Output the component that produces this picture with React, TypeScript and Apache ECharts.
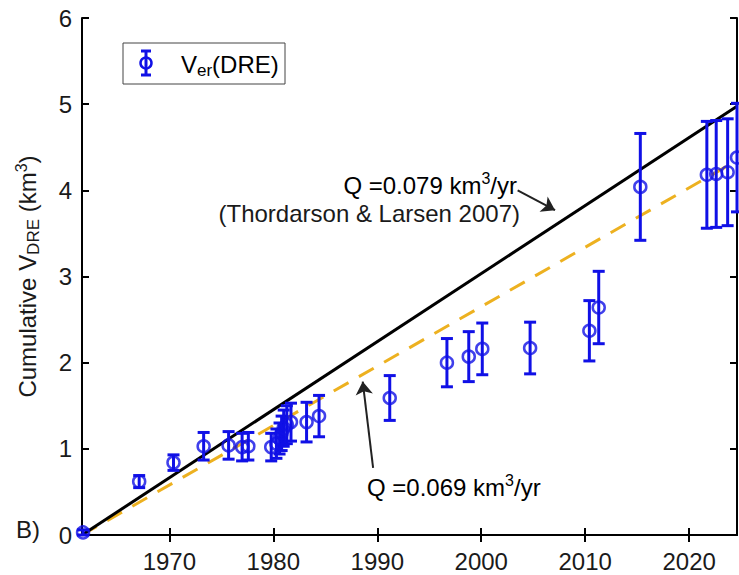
import React, { useEffect, useRef } from "react";
import * as echarts from "echarts";

// ---- data ----
const years = [1961.7, 1967.1, 1970.4, 1973.3, 1975.7, 1977.0, 1977.6, 1979.8, 1980.3, 1980.6, 1980.8, 1981.0, 1981.3, 1981.7, 1983.2, 1984.4, 1991.2, 1996.7, 1998.8, 2000.1, 2004.7, 2010.4, 2011.3, 2015.3, 2021.7, 2022.6, 2023.7, 2024.6];
const volumes = [0.03, 0.62, 0.84, 1.03, 1.04, 1.02, 1.03, 1.02, 1.06, 1.12, 1.18, 1.24, 1.28, 1.31, 1.31, 1.38, 1.59, 2.0, 2.07, 2.16, 2.17, 2.37, 2.64, 4.04, 4.18, 4.19, 4.21, 4.38];
const errors = [0.03, 0.07, 0.09, 0.16, 0.16, 0.16, 0.16, 0.16, 0.17, 0.18, 0.2, 0.21, 0.22, 0.22, 0.23, 0.24, 0.26, 0.28, 0.29, 0.3, 0.3, 0.35, 0.42, 0.62, 0.62, 0.62, 0.62, 0.63];
const xTicks = [1970, 1980, 1990, 2000, 2010, 2020];
const xMin = 1961.6;
const xMax = 2024.6;
const rateLong = 0.079; // km3/yr (Thordarson & Larsen 2007)
const rateFit = 0.069; // km3/yr

const BLUE = "#1010e6";
const ORANGE = "#EDB120";
const FONT = "Liberation Sans, Arial, Helvetica, sans-serif";
const TXT = "#1a1a1a";
const FS = 24;

const richBase = (size: number) => ({
  n: { fontSize: size, fontFamily: FONT, color: TXT, lineHeight: size + 5 },
  sub: { fontSize: Math.round(size * 0.7), fontFamily: FONT, color: TXT, verticalAlign: "bottom", lineHeight: Math.round(size * 0.62) },
  sup: { fontSize: Math.round(size * 0.68), fontFamily: FONT, color: TXT, verticalAlign: "top", lineHeight: Math.round(size * 0.68) },
});

export default function App() {
  const ref = useRef<HTMLDivElement>(null);
  useEffect(() => {
    if (!ref.current) return;
    const chart = echarts.init(ref.current, null, { renderer: "svg" });
    const pts = years.map((y, i) => [y, volumes[i], errors[i]]);
    const lineLong = [[xMin, 0], [xMax, rateLong * (xMax - xMin)]];
    const lineFit = [[xMin, 0], [xMax, rateFit * (xMax - xMin)]];
    const axisLine = { show: true, lineStyle: { color: "#000", width: 2 } };
    const axisTickIn = { show: true, inside: true, length: 7, lineStyle: { color: "#000", width: 2 } };
    chart.setOption({
      animation: false,
      backgroundColor: "#fff",
      grid: { left: 82, right: 2, top: 18, bottom: 40 },
      xAxis: [
        {
          type: "value", min: xMin, max: xMax, position: "bottom",
          axisLine, axisTick: { ...axisTickIn, customValues: xTicks },
          axisLabel: { customValues: xTicks, formatter: (v: number) => String(Math.round(v)), fontSize: FS, fontFamily: FONT, color: TXT, margin: 14 },
          splitLine: { show: false },
        },
        {
          type: "value", min: xMin, max: xMax, position: "top",
          axisLine, axisTick: { ...axisTickIn, customValues: xTicks },
          axisLabel: { show: false }, splitLine: { show: false },
        },
      ],
      yAxis: [
        {
          type: "value", min: 0, max: 6, interval: 1, position: "left",
          name: "{n|Cumulative V}{sub|DRE}{n| (km}{sup|3}{n|)}",
          nameLocation: "middle", nameGap: 40,
          nameTextStyle: { rich: richBase(FS) },
          axisLine, axisTick: axisTickIn,
          axisLabel: { fontSize: FS, fontFamily: FONT, color: TXT, margin: 10 },
          splitLine: { show: false },
        },
        {
          type: "value", min: 0, max: 6, interval: 1, position: "right",
          axisLine, axisTick: axisTickIn, axisLabel: { show: false }, splitLine: { show: false },
        },
      ],
      series: [
        {
          type: "line", data: lineLong, symbol: "none",
          lineStyle: { color: "#000", width: 3 }, z: 3,
          markLine: {
            silent: true, symbol: ["none", "arrow"], symbolSize: 13,
            label: { show: false },
            lineStyle: { color: "#222", width: 2, type: "solid" },
            data: [
              [{ coord: [2003.5, 4.0] }, { coord: [2007.1, 3.77] }],
              [{ coord: [1989.6, 0.78] }, { coord: [1988.6, 1.78] }],
            ],
          },
        },
        {
          type: "line", data: lineFit, symbol: "none",
          lineStyle: { color: ORANGE, width: 3, type: [17, 12] }, z: 2,
        },
        {
          type: "custom", data: pts, encode: { x: 0, y: 1 }, z: 4,
          renderItem: (params: any, api: any) => {
            const x = api.value(0), y = api.value(1), e = api.value(2);
            const t = api.coord([x, y + e]);
            const b = api.coord([x, y - e]);
            const hw = 6;
            const st = { stroke: BLUE, lineWidth: 3 };
            return {
              type: "group",
              children: [
                { type: "line", shape: { x1: t[0], y1: t[1], x2: b[0], y2: b[1] }, style: st },
                { type: "line", shape: { x1: t[0] - hw, y1: t[1], x2: t[0] + hw, y2: t[1] }, style: st },
                { type: "line", shape: { x1: b[0] - hw, y1: b[1], x2: b[0] + hw, y2: b[1] }, style: st },
              ],
            };
          },
        },
        {
          type: "scatter", data: pts.map((p) => [p[0], p[1]]), symbol: "circle", symbolSize: 12, z: 5,
          itemStyle: { color: "rgba(255,255,255,0)", borderColor: BLUE, borderWidth: 2.5 },
          clip: false,
        },
      ],
      graphic: [
        // legend box
        { type: "rect", shape: { x: 123, y: 43, width: 162, height: 41 }, style: { fill: "#fff", stroke: "#444", lineWidth: 1 }, z: 10 },
        { type: "line", shape: { x1: 146, y1: 51, x2: 146, y2: 75 }, style: { stroke: BLUE, lineWidth: 3 }, z: 11 },
        { type: "line", shape: { x1: 141, y1: 51, x2: 151, y2: 51 }, style: { stroke: BLUE, lineWidth: 3 }, z: 11 },
        { type: "line", shape: { x1: 141, y1: 75, x2: 151, y2: 75 }, style: { stroke: BLUE, lineWidth: 3 }, z: 11 },
        { type: "circle", shape: { cx: 146, cy: 63, r: 5.5 }, style: { fill: "none", stroke: BLUE, lineWidth: 2.5 }, z: 11 },
        { type: "text", x: 181, y: 64, style: { text: "{n|V}{sub|er}{n|(DRE)}", rich: richBase(FS), verticalAlign: "middle", align: "left" }, z: 11 },
        // annotations
        { type: "text", x: 517, y: 185, style: { text: "{n|Q =0.079 km}{sup|3}{n|/yr}", rich: richBase(FS), align: "right", verticalAlign: "middle" }, z: 11 },
        { type: "text", x: 520, y: 213, style: { text: "(Thordarson & Larsen 2007)", font: `${FS}px ${FONT}`, fill: TXT, align: "right", verticalAlign: "middle" }, z: 11 },
        { type: "text", x: 367, y: 487, style: { text: "{n|Q =0.069 km}{sup|3}{n|/yr}", rich: richBase(FS), align: "left", verticalAlign: "middle" }, z: 11 },
        { type: "text", x: 16, y: 529, style: { text: "B)", font: `${FS}px ${FONT}`, fill: TXT, align: "left", verticalAlign: "middle" }, z: 11 },
      ],
    });
    return () => chart.dispose();
  }, []);
  return <div ref={ref} style={{ width: 739, height: 575, position: "absolute", left: 0, top: 0 }} />;
}
